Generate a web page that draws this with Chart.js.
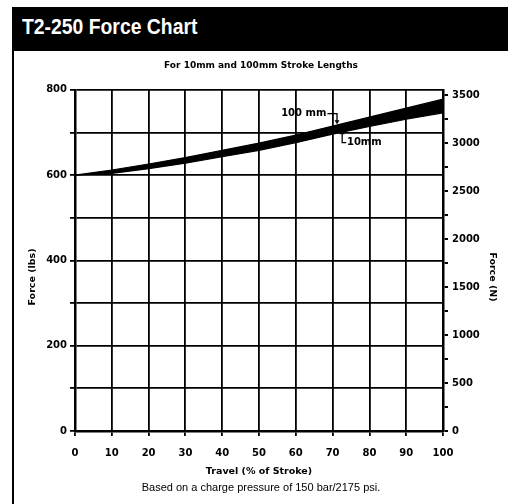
<!DOCTYPE html>
<html lang="en">
<head>
    <meta charset="UTF-8">
    <title>T2-250 Force Chart</title>
    <script src="https://cdn.jsdelivr.net/npm/chart.js"></script>
    <style>
        body {
            margin: 0;
            padding: 0;
            background: #fff;
            width: 508px;
            height: 504px;
            overflow: hidden;
            position: relative;
        }

        .header {
            position: absolute;
            left: 12px;
            top: 7px;
            width: 496px;
            height: 44px;
            background: #000;
            z-index: 2;
        }

        .header span {
            position: absolute;
            left: 10px;
            top: 9px;
            color: #fff;
            font-family: 'Liberation Sans', Arial, sans-serif;
            font-weight: bold;
            font-size: 22px;
            line-height: 22px;
            white-space: nowrap;
            transform: scaleX(0.88); /* condensed look */
            transform-origin: left top;
        }

        .frame {
            position: absolute;
            left: 12px;
            top: 50px;
            width: 2px;
            height: 454px;
            background: #000;
            z-index: 2;
        }

        canvas {
            position: absolute;
            left: 0;
            top: 0;
        }
    </style>
</head>
<body>
    <div class="header"><span>T2-250 Force Chart</span></div>
    <div class="frame"></div>
    <canvas id="forceChart" width="508" height="504"></canvas>

    <script>
        // travel in % of stroke
        const travel = [0, 10, 20, 30, 40, 50, 60, 70, 80, 90, 100];
        // force in lbs
        const force100mm = [600, 612, 626, 641, 658, 675, 694, 715, 736, 757, 778];
        const force10mm = [600, 604, 615, 628, 643, 658, 676, 696, 714, 731, 746];

        const travelTicks = [0, 10, 20, 30, 40, 50, 60, 70, 80, 90, 100];
        const lbsTicks = [0, 100, 200, 300, 400, 500, 600, 700, 800];
        const lbsLabels = [0, 200, 400, 600, 800];
        const newtonTicks = [0, 250, 500, 750, 1000, 1250, 1500, 1750, 2000, 2250, 2500, 2750, 3000, 3250, 3500];
        const newtonLabels = [0, 500, 1000, 1500, 2000, 2500, 3000, 3500];

        const LBS_TO_N = 4.44822;
        const tickFont = { family: 'DejaVu Sans', size: 10, weight: 'bold' };
        const titleFont = { family: 'DejaVu Sans', size: 9.5, weight: 'bold' };

        // labels with hooked arrows pointing at each edge of the band
        const calloutPlugin = {
            id: 'callouts',
            afterDatasetsDraw(chart) {
                const { ctx, scales: { x, y } } = chart;
                ctx.save();
                ctx.fillStyle = '#000';
                ctx.strokeStyle = '#000';
                ctx.lineWidth = 1.3;
                ctx.font = 'bold 10px "DejaVu Sans"';
                ctx.textBaseline = 'middle';

                // 100 mm -> upper edge
                ctx.textAlign = 'right';
                ctx.fillText('100 mm', x.getPixelForValue(68.3), y.getPixelForValue(744));
                let ax = x.getPixelForValue(71.2);
                let ay = y.getPixelForValue(744);
                let tip = y.getPixelForValue(719);
                ctx.beginPath();
                ctx.moveTo(x.getPixelForValue(68.6), ay);
                ctx.lineTo(ax, ay);
                ctx.lineTo(ax, tip - 3);
                ctx.stroke();
                ctx.beginPath();
                ctx.moveTo(ax - 2.5, tip - 4);
                ctx.lineTo(ax + 2.5, tip - 4);
                ctx.lineTo(ax, tip);
                ctx.closePath();
                ctx.fill();

                // 10mm -> lower edge
                ctx.textAlign = 'left';
                ctx.fillText('10mm', x.getPixelForValue(73.9), y.getPixelForValue(676));
                ax = x.getPixelForValue(72.6);
                ay = y.getPixelForValue(676);
                tip = y.getPixelForValue(705);
                ctx.beginPath();
                ctx.moveTo(x.getPixelForValue(73.7), ay);
                ctx.lineTo(ax, ay);
                ctx.lineTo(ax, tip + 3);
                ctx.stroke();
                ctx.beginPath();
                ctx.moveTo(ax - 2.5, tip + 4);
                ctx.lineTo(ax + 2.5, tip + 4);
                ctx.lineTo(ax, tip);
                ctx.closePath();
                ctx.fill();
                ctx.restore();
            }
        };

        const ctx = document.getElementById('forceChart').getContext('2d');
        new Chart(ctx, {
            type: 'line',
            data: {
                datasets: [{
                    label: '100 mm',
                    data: travel.map((t, i) => ({ x: t, y: force100mm[i] })),
                    borderColor: '#000',
                    backgroundColor: '#000',
                    borderWidth: 1.2,
                    pointRadius: 0,
                    fill: '+1'
                }, {
                    label: '10 mm',
                    data: travel.map((t, i) => ({ x: t, y: force10mm[i] })),
                    borderColor: '#000',
                    backgroundColor: '#000',
                    borderWidth: 1.2,
                    pointRadius: 0,
                    fill: false
                }]
            },
            options: {
                responsive: false,
                animation: false,
                layout: { padding: { left: 14, right: 0, top: 50, bottom: 0 } },
                plugins: {
                    legend: { display: false },
                    tooltip: { enabled: false },
                    title: {
                        display: true,
                        text: 'For 10mm and 100mm Stroke Lengths',
                        color: '#000',
                        font: { family: 'DejaVu Sans', size: 9, weight: 'bold' },
                        padding: { top: 10, bottom: 19 }
                    },
                    subtitle: {
                        display: true,
                        position: 'bottom',
                        text: 'Based on a charge pressure of 150 bar/2175 psi.',
                        color: '#000',
                        font: { family: 'Liberation Sans', size: 11 },
                        padding: { top: 0, bottom: 9 }
                    }
                },
                scales: {
                    x: {
                        type: 'linear',
                        min: 0,
                        max: 100,
                        afterBuildTicks: s => { s.ticks = travelTicks.map(v => ({ value: v })); },
                        afterFit: s => { s.height = 50.8; },
                        grid: { color: '#000', lineWidth: 1.8, tickLength: 5 },
                        border: { color: '#000', width: 2.5 },
                        ticks: { color: '#000', font: tickFont, padding: 11, maxRotation: 0 },
                        title: {
                            display: true,
                            text: 'Travel (% of Stroke)',
                            color: '#000',
                            font: titleFont,
                            padding: { top: 0, bottom: 5 }
                        }
                    },
                    y: {
                        position: 'left',
                        min: 0,
                        max: 800,
                        afterBuildTicks: s => { s.ticks = lbsTicks.map(v => ({ value: v })); },
                        afterFit: s => { s.width = 61; },
                        grid: { color: '#000', lineWidth: 1.8, tickLength: 5 },
                        border: { color: '#000', width: 2.5 },
                        ticks: {
                            color: '#000',
                            font: tickFont,
                            padding: 3,
                            callback: v => lbsLabels.includes(v) ? String(v) : ''
                        },
                        title: {
                            display: true,
                            text: 'Force (lbs)' + '          ',
                            color: '#000',
                            font: titleFont,
                            padding: { top: 13 }
                        }
                    },
                    y2: {
                        position: 'right',
                        min: 0,
                        max: 800 * LBS_TO_N,
                        afterBuildTicks: s => { s.ticks = newtonTicks.map(v => ({ value: v })); },
                        afterFit: s => { s.width = 65; },
                        grid: { drawOnChartArea: false, color: '#000', lineWidth: 2, tickLength: 5 },
                        border: { color: '#000', width: 2.5 },
                        ticks: {
                            color: '#000',
                            font: tickFont,
                            padding: 4,
                            callback: v => newtonLabels.includes(v) ? String(v) : ''
                        },
                        title: {
                            display: true,
                            text: '          ' + 'Force (N)',
                            color: '#000',
                            font: titleFont,
                            padding: { top: 10 }
                        }
                    }
                }
            },
            plugins: [calloutPlugin]
        });
    </script>
</body>
</html>
